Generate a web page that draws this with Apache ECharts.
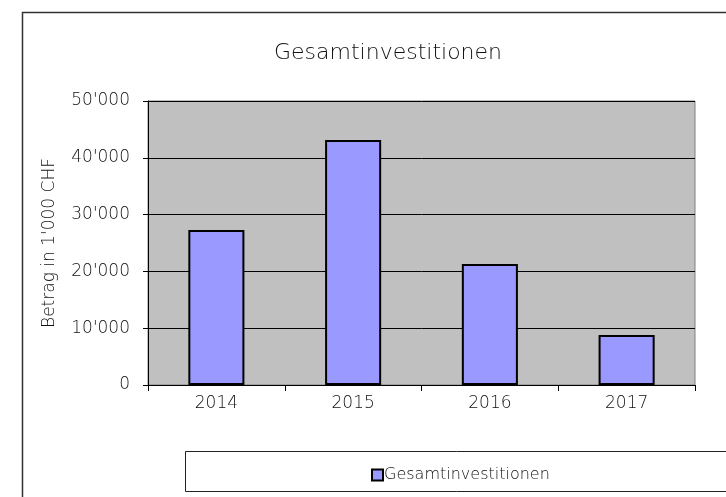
<!DOCTYPE html>
<html><head><meta charset="utf-8">
<script src="https://cdn.jsdelivr.net/npm/echarts@6/dist/echarts.min.js"></script>
<style>html,body{margin:0;padding:0;background:#fff}#c{width:726px;height:497px}</style>
</head><body><div id="c"></div>
<script>
const categories = ['2014', '2015', '2016', '2017'];
const investitionen = [27300, 43150, 21300, 8800];
const seriesName = 'Gesamtinvestitionen';
const chartTitle = 'Gesamtinvestitionen';
const yAxisName = "Betrag in 1'000 CHF";

const FONT = "'DejaVu Sans', Roboto, sans-serif";
const FW = 200;
const chart = echarts.init(document.getElementById('c'), null, {renderer: 'canvas'});
chart.setOption({
  backgroundColor: '#fff',
  animation: false,
  title: {
    text: chartTitle, left: 383, top: 37, textAlign: 'center',
    textStyle: {fontFamily: FONT, fontSize: 22, fontWeight: FW, color: '#111'}
  },
  graphic: [
    {type: 'rect', shape: {x: 22.5, y: 12.5, width: 720, height: 500}, style: {fill: 'none', stroke: '#333', lineWidth: 1.5}, z: 0},
    {type: 'rect', shape: {x: 185.5, y: 451.5, width: 560, height: 40}, style: {fill: '#fff', stroke: '#222', lineWidth: 1}, z: 0}
  ],
  legend: {
    data: [seriesName], left: 366, top: 462, itemWidth: 11, itemHeight: 11, itemGap: 4,
    icon: 'rect',
    textStyle: {fontFamily: FONT, fontSize: 16, fontWeight: FW, color: '#111', padding: [0, 0, 0, -4]},
    itemStyle: {borderColor: '#000', borderWidth: 2}
  },
  grid: {left: 148, right: 31, top: 101, bottom: 112, show: true, backgroundColor: '#c0c0c0', borderColor: '#808080', borderWidth: 1},
  xAxis: {
    type: 'category', data: categories,
    axisLine: {lineStyle: {color: '#000', width: 1}},
    axisTick: {show: true, alignWithLabel: false, length: 6, lineStyle: {color: '#000'}},
    axisLabel: {fontFamily: FONT, fontSize: 17, fontWeight: FW, color: '#111', margin: 10}
  },
  yAxis: {
    type: 'value', min: 0, max: 50000, interval: 10000,
    name: yAxisName, nameLocation: 'middle', nameGap: 90, nameRotate: 90,
    nameTextStyle: {fontFamily: FONT, fontSize: 17, fontWeight: FW, color: '#111'},
    axisLine: {show: true, lineStyle: {color: '#000'}},
    axisTick: {show: true, length: 5, lineStyle: {color: '#000'}},
    axisLabel: {fontFamily: FONT, fontSize: 17, fontWeight: FW, color: '#111', margin: 18,
      formatter: v => v === 0 ? '0' : String(v).replace(/(\d)(?=(\d{3})+$)/g, "$1'")},
    splitLine: {show: true, lineStyle: {color: '#000', width: 1}}
  },
  series: [{
    name: seriesName, type: 'bar', data: investitionen, barWidth: '41%',
    itemStyle: {color: '#9999ff', borderColor: '#000', borderWidth: 2}
  }]
});
</script></body></html>
